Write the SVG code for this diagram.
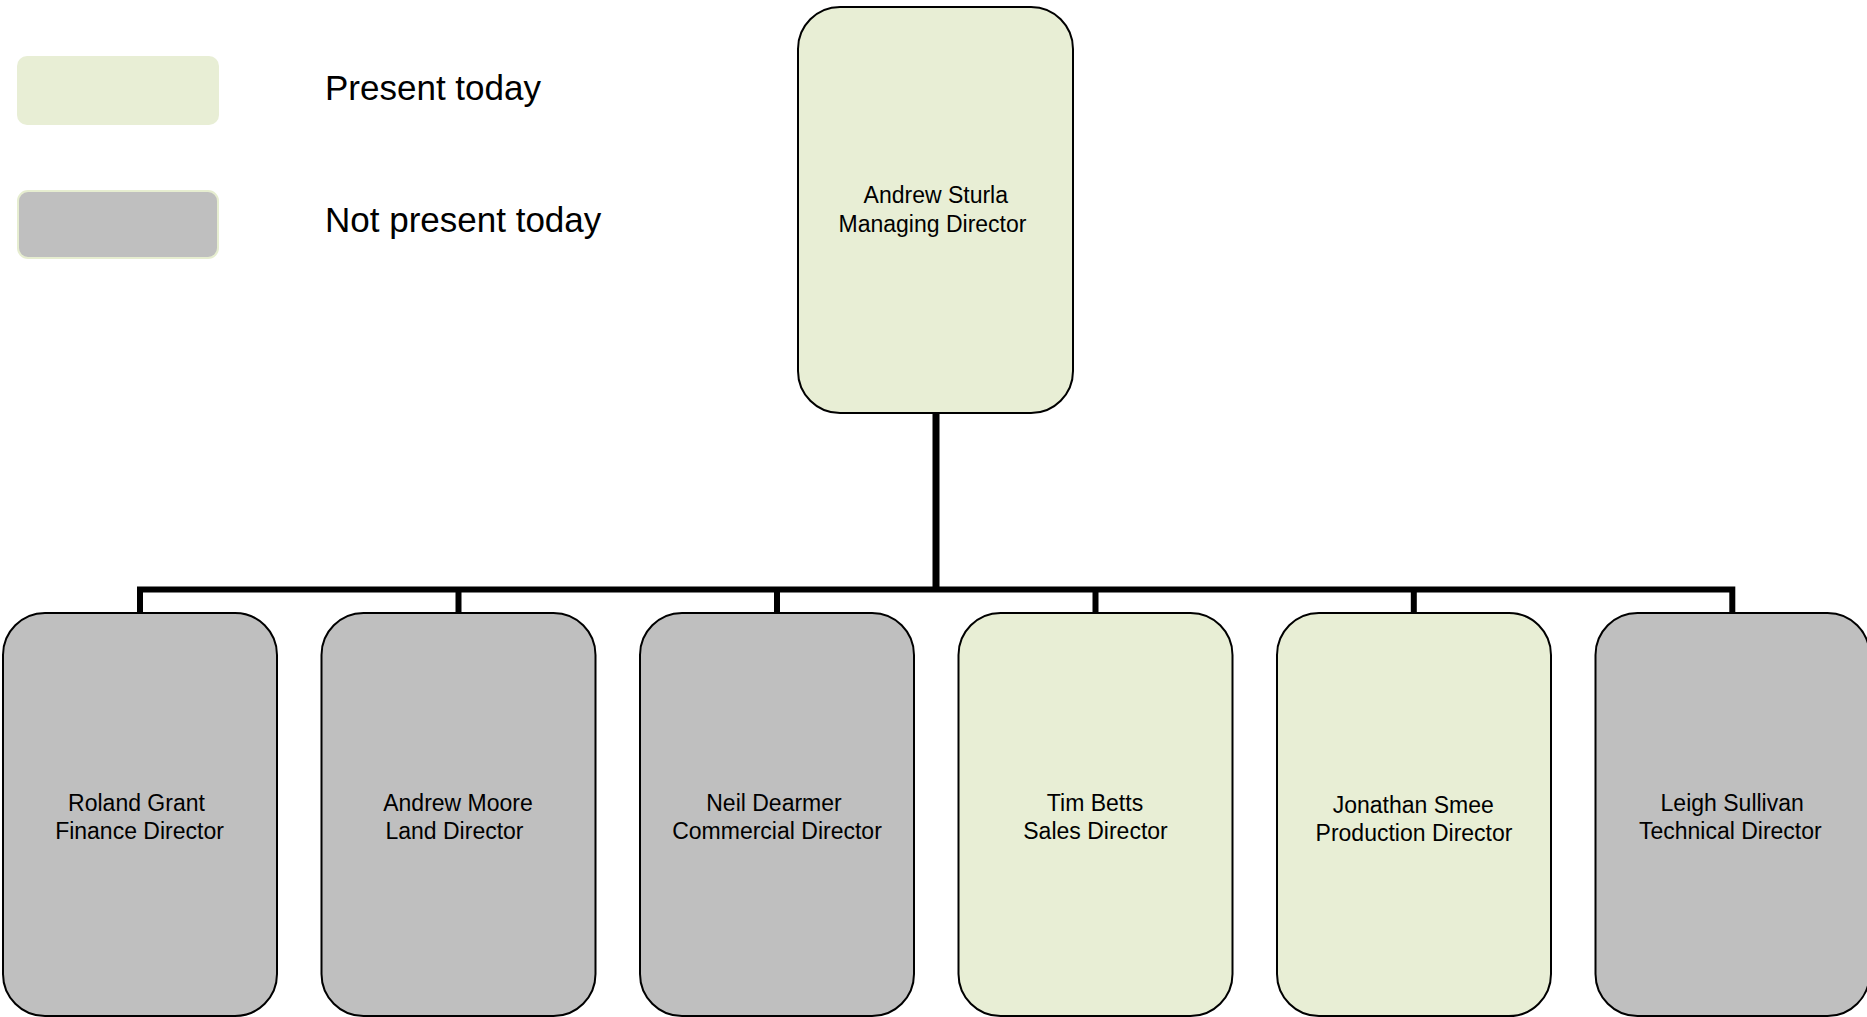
<svg xmlns="http://www.w3.org/2000/svg" width="1867" height="1017" viewBox="0 0 1867 1017">
<style>
  .lbl { font-family: "Liberation Sans", Arial, sans-serif; font-size: 23px; fill: #000; text-anchor: middle; }
  .leg { font-family: "Liberation Sans", Arial, sans-serif; font-size: 35px; fill: #000; }
  .present { fill: #e8eed5; stroke: #000; stroke-width: 2; }
  .absent { fill: #bfbfbf; stroke: #000; stroke-width: 2; }
  .conn { fill: none; stroke: #000; stroke-width: 6; stroke-linejoin: miter; }
</style>
<rect width="1867" height="1017" fill="#fff"/>
<g id="legend">
  <rect x="17" y="56" width="202" height="69" rx="10" fill="#e8eed5"/>
  <rect x="18" y="191" width="200" height="67" rx="10" fill="#bfbfbf" stroke="#e6edd0" stroke-width="2"/>
  <text class="leg" x="325" y="100">Present today</text>
  <text class="leg" x="325" y="232">Not present today</text>
</g>
<g id="connectors">
  <line x1="936" y1="413" x2="936" y2="590" stroke="#000" stroke-width="7"/>
  <path class="conn" d="M140,613 V589.5 H1732.3 V613"/>
  <line class="conn" x1="458.5" y1="589" x2="458.5" y2="613" stroke-width="5.5"/>
  <line class="conn" x1="777" y1="589" x2="777" y2="613" stroke-width="5.5"/>
  <line class="conn" x1="1095.5" y1="589" x2="1095.5" y2="613" stroke-width="5.5"/>
  <line class="conn" x1="1413.8" y1="589" x2="1413.8" y2="613" stroke-width="5.5"/>
</g>
<g id="node-sturla">
  <rect class="present" x="798" y="7" width="275" height="406" rx="42"/>
  <text class="lbl" x="935.8" y="203">Andrew Sturla</text>
  <text class="lbl" x="932.5" y="232">Managing Director</text>
</g>
<g id="node-grant">
  <rect class="absent" x="3" y="613" width="274" height="403" rx="42"/>
  <text class="lbl" x="136.5" y="811">Roland Grant</text>
  <text class="lbl" x="139.5" y="839">Finance Director</text>
</g>
<g id="node-moore">
  <rect class="absent" x="321.5" y="613" width="274" height="403" rx="42"/>
  <text class="lbl" x="458" y="811">Andrew Moore</text>
  <text class="lbl" x="454.5" y="839">Land Director</text>
</g>
<g id="node-dearmer">
  <rect class="absent" x="640" y="613" width="274" height="403" rx="42"/>
  <text class="lbl" x="774" y="811">Neil Dearmer</text>
  <text class="lbl" x="777" y="839">Commercial Director</text>
</g>
<g id="node-betts">
  <rect class="present" x="958.5" y="613" width="274" height="403" rx="42"/>
  <text class="lbl" x="1095" y="811">Tim Betts</text>
  <text class="lbl" x="1095.5" y="839">Sales Director</text>
</g>
<g id="node-smee">
  <rect class="present" x="1277" y="613" width="274" height="403" rx="42"/>
  <text class="lbl" x="1413.3" y="813">Jonathan Smee</text>
  <text class="lbl" x="1414" y="841">Production Director</text>
</g>
<g id="node-sullivan">
  <rect class="absent" x="1595.5" y="613" width="274" height="403" rx="42"/>
  <text class="lbl" x="1732.2" y="811">Leigh Sullivan</text>
  <text class="lbl" x="1730.3" y="839">Technical Director</text>
</g>
</svg>
